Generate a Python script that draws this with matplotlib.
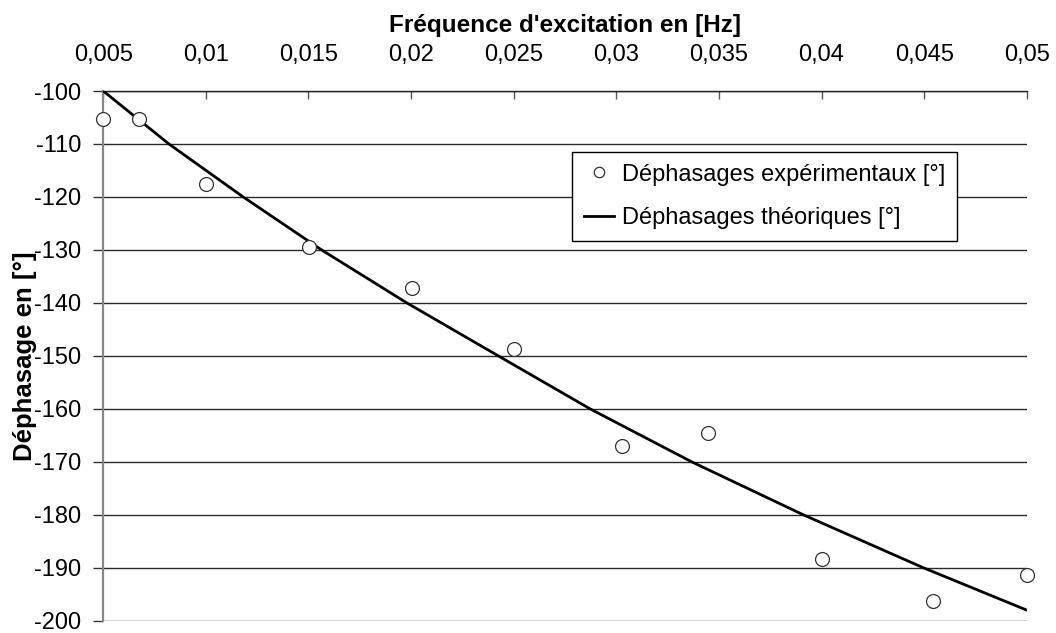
import matplotlib
matplotlib.use("Agg")
import matplotlib.pyplot as plt
from matplotlib.ticker import FixedLocator, FuncFormatter

plt.rcParams['font.family'] = ['Liberation Sans', 'DejaVu Sans']

# Measured phase shifts
freq_exp = [0.005, 0.00674, 0.0100, 0.01502, 0.02003, 0.02501, 0.03028, 0.03445, 0.0400, 0.04545, 0.0500]
phase_exp = [-105.2, -105.2, -117.5, -129.4, -137.1, -148.7, -167.0, -164.5, -188.4, -196.3, -191.4]

# Theoretical phase shift curve
freq_th = [0.005, 0.0082, 0.01182, 0.01564, 0.01979, 0.02425, 0.02872, 0.03367, 0.03911, 0.04496, 0.0500]
phase_th = [-100.0, -110.0, -120.0, -130.0, -140.0, -150.0, -160.0, -170.0, -180.0, -190.0, -198.0]

x_ticks = [0.005, 0.01, 0.015, 0.02, 0.025, 0.03, 0.035, 0.04, 0.045, 0.05]
y_ticks = [-100, -110, -120, -130, -140, -150, -160, -170, -180, -190, -200]

fig = plt.figure(figsize=(10.56, 6.33), dpi=100)
ax = fig.add_axes([0.0978, 0.0194, 0.8745, 0.8368])

ax.plot(freq_exp, phase_exp, linestyle='none', marker='o', markersize=10,
        markerfacecolor='white', markeredgecolor='#333333', markeredgewidth=0.9,
        label='Déphasages expérimentaux [°]', zorder=4, clip_on=False)
ax.plot(freq_th, phase_th, color='black', linewidth=2.0,
        label='Déphasages théoriques [°]', zorder=3)

ax.set_xlim(0.005, 0.05)
ax.set_ylim(-200, -100)

ax.xaxis.set_major_locator(FixedLocator(x_ticks))
ax.yaxis.set_major_locator(FixedLocator(y_ticks))
ax.xaxis.set_major_formatter(FuncFormatter(lambda v, p: ('%g' % v).replace('.', ',')))
ax.yaxis.set_major_formatter(FuncFormatter(lambda v, p: '%d' % v))

ax.xaxis.tick_top()
ax.xaxis.set_label_position('top')
ax.tick_params(axis='x', direction='in', length=6, width=1, colors='#555555',
               labelcolor='black', labelsize=17, pad=18)
ax.tick_params(axis='y', direction='out', length=7, width=1, colors='#333333',
               labelcolor='black', labelsize=17, pad=9)

ax.grid(axis='y', color='#2a2a2a', linewidth=1.0)
ax.set_axisbelow(True)

for side in ('right', 'bottom'):
    ax.spines[side].set_visible(False)
ax.spines['left'].set_color('#888888')
ax.spines['left'].set_linewidth(1.6)
ax.spines['top'].set_color('#222222')
ax.spines['top'].set_linewidth(1.0)

ax.set_xlabel("Fréquence d'excitation en [Hz]", fontsize=17.5, fontweight='bold', labelpad=9)
ax.set_ylabel("Déphasage en [°]", fontsize=18.5, fontweight='bold', labelpad=-2)

leg = ax.legend(loc='upper left', bbox_to_anchor=(0.5075, 0.885), fontsize=17,
                frameon=True, fancybox=False, edgecolor='black', framealpha=1,
                markerscale=0.75, handlelength=1.3, handletextpad=0.3,
                borderpad=0.5, labelspacing=0.9, borderaxespad=0)
leg.get_frame().set_linewidth(1.0)

fig.savefig('out.png', dpi=100)
